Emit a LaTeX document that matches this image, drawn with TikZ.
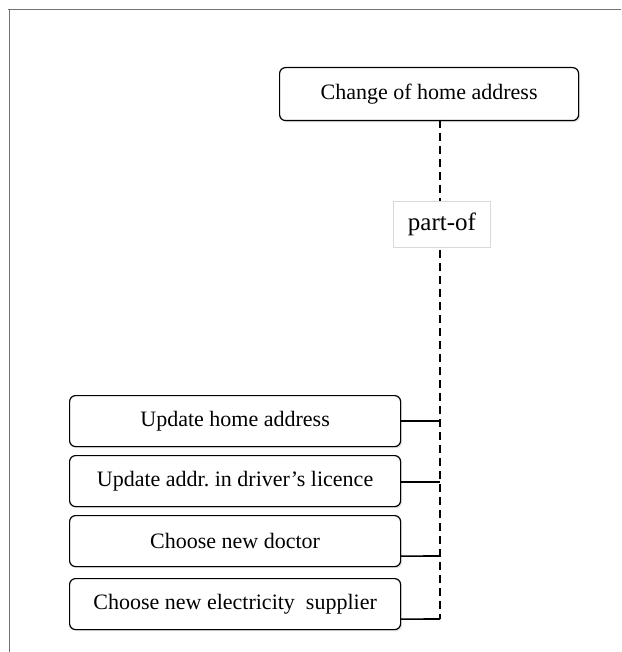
\documentclass[tikz,border=0pt]{standalone}
\usepackage{fontspec}
\setmainfont{Liberation Serif}
\usetikzlibrary{shadows}
\frenchspacing
\begin{document}
\begin{tikzpicture}[x=1pt,y=-1pt,
  taskbox/.style={draw=black, line width=1.2pt, rounded corners=6pt, fill=white,
    drop shadow={shadow xshift=1.5pt, shadow yshift=-1.5pt, opacity=0.25},
    font=\fontsize{22}{25}\selectfont, inner sep=0pt, anchor=north west},
  labelbox/.style={draw=black!15, line width=0.6pt, fill=white, font=\fontsize{25}{28}\selectfont, inner sep=0pt},
  partline/.style={line width=1.2pt, dash pattern=on 8pt off 5pt},
  joinline/.style={line width=1.6pt}]
\useasboundingbox (0,0) rectangle (621,652);
\draw[black!55, line width=0.8pt] (8,9) -- (621,9);
\draw[black!55, line width=0.8pt] (9,9) -- (9,652);
\node[taskbox, minimum width=299pt, minimum height=53pt] (top) at (279,67) {Change of home address};
\node[taskbox, minimum width=331pt, minimum height=51pt] (b1) at (69,395) {Update home address};
\node[taskbox, minimum width=331pt, minimum height=51pt] (b2) at (69,455) {Update addr. in driver’s licence};
\node[taskbox, minimum width=331pt, minimum height=51pt] (b3) at (69,515) {Choose new doctor};
\node[taskbox, minimum width=331pt, minimum height=51pt] (b4) at (69,578) {Choose new electricity\ \ supplier};
\coordinate (topout) at (440,120);
\coordinate (bottomend) at (440,619);
\draw[partline] (topout) -- (bottomend);
\node[labelbox, minimum width=97pt, minimum height=46pt] (lbl) at (442,224) {part-of};
\coordinate (j1) at (440,421);
\coordinate (j2) at (440,482);
\coordinate (j3) at (440,556);
\coordinate (j4) at (440,619);
\draw[joinline] (b1.east |- j1) -- (j1);
\draw[joinline] (b2.east |- j2) -- (j2);
\draw[joinline] ([yshift=-15pt]b3.east) -- (j3);
\draw[joinline] ([yshift=-15pt]b4.east) -- (j4);
\end{tikzpicture}
\end{document}
